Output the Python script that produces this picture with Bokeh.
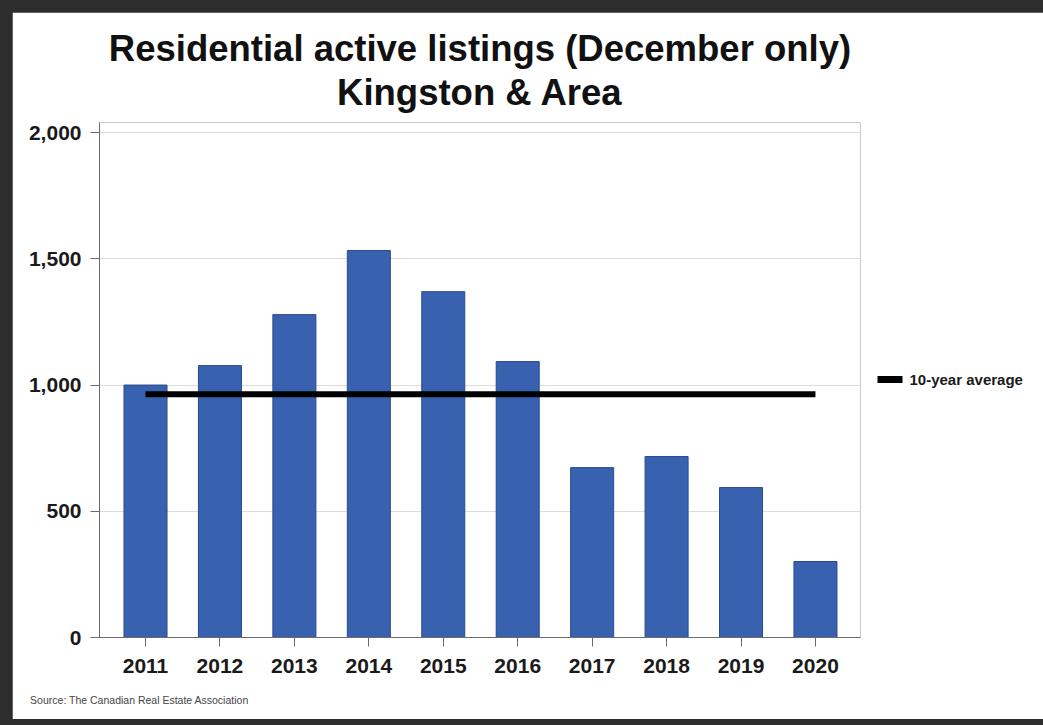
from bokeh.plotting import figure
from bokeh.embed import file_html
from bokeh.resources import INLINE
from bokeh.models import (Range1d, FixedTicker, Title, LinearAxis,
                          NumeralTickFormatter)
from bokeh.layouts import column

# ---- data ----
years = [2011, 2012, 2013, 2014, 2015, 2016, 2017, 2018, 2019, 2020]
year_labels = [str(y) for y in years]
active_listings = [1000, 1077, 1279, 1533, 1370, 1093, 673, 717, 594, 301]
y_ticks = [0, 500, 1000, 1500, 2000]
title_line1 = "Residential active listings (December only)"
title_line2 = "Kingston & Area"
legend_text = "10-year average"
source_text = "Source: The Canadian Real Estate Association"

avg_value = sum(active_listings) / len(active_listings)
bar_width = 0.578

# layout-only positions
X_START, X_END = 2010.382, 2020.605
TITLE_X = round((X_START + X_END) / 2, 3)
SOURCE_X = 2010.92
LEGEND_Y = 1022

FONT = "Liberation Sans"


def text_axis(tick, label, size, style, color, standoff):
    """An axis with no line and no tick, used only to carry one text."""
    return LinearAxis(ticker=FixedTicker(ticks=[tick]),
                      major_label_overrides={tick: label},
                      axis_line_color=None, major_tick_line_color=None,
                      minor_tick_line_color=None, major_tick_in=0,
                      major_tick_out=0, major_label_standoff=standoff,
                      major_label_orientation="horizontal",
                      major_label_text_font=FONT, major_label_text_font_size=size,
                      major_label_text_font_style=style,
                      major_label_text_color=color)


p = figure(width=1031, height=707, output_backend="svg", toolbar_location=None,
           x_range=Range1d(X_START, X_END), y_range=Range1d(0, 2040),
           min_border_left=87, min_border_right=183, min_border_top=110,
           min_border_bottom=82, outline_line_color=None,
           background_fill_color="white", border_fill_color="white")
p.margin = (12, 0, 6, 12)

p.vbar(x=years, top=active_listings, width=bar_width,
       fill_color="#3861b0", line_color="#2b4b8c", line_width=1)

p.line(x=[years[0], years[-1]], y=[avg_value, avg_value],
       line_width=6, line_color="black", line_cap="butt")

# axes
p.xaxis.ticker = FixedTicker(ticks=years)
p.xaxis.major_label_overrides = {y: s for y, s in zip(years, year_labels)}
p.yaxis.ticker = FixedTicker(ticks=y_ticks)
p.yaxis.formatter = NumeralTickFormatter(format="0,0")
for ax in (p.xaxis, p.yaxis):
    ax.axis_line_color = "#6b6b6b"
    ax.major_tick_line_color = "#6b6b6b"
    ax.minor_tick_line_color = None
    ax.major_tick_in = 0
    ax.major_tick_out = 9
    ax.major_label_text_font = FONT
    ax.major_label_text_font_size = "21px"
    ax.major_label_text_font_style = "bold"
    ax.major_label_text_color = "#1a1a1a"
p.yaxis.major_label_standoff = 9
p.xaxis.major_label_standoff = 12

p.xgrid.grid_line_color = None
p.ygrid.grid_line_color = "#dcdcdc"
p.ygrid.grid_line_width = 1

# title: second line next to the frame, first line above it
p.add_layout(text_axis(TITLE_X, title_line2, "36.5px", "bold", "#111111", 10),
             "above")
p.add_layout(Title(text=title_line1, align="center", text_font=FONT,
                   text_font_size="36.5px", text_font_style="bold",
                   text_color="#111111", standoff=0), "above")

# source note under the year labels
p.add_layout(text_axis(SOURCE_X, source_text, "10.5px", "normal", "#444444", 18),
             "below")

# legend key drawn as a right-hand axis with a single thick tick
key_axis = LinearAxis(ticker=FixedTicker(ticks=[LEGEND_Y]),
                      major_label_overrides={LEGEND_Y: legend_text},
                      axis_line_color=None, minor_tick_line_color=None,
                      major_tick_line_color="black", major_tick_line_width=7,
                      major_tick_line_cap="butt",
                      major_tick_in=-17, major_tick_out=42,
                      major_label_standoff=7, major_label_orientation="horizontal",
                      major_label_text_font=FONT, major_label_text_font_size="15px",
                      major_label_text_font_style="bold",
                      major_label_text_color="#1a1a1a")
p.add_layout(key_axis, "right")

layout = column(p, styles={"background-color": "#2d2d2d"})

open("out.html", "w").write(file_html(layout, INLINE))
